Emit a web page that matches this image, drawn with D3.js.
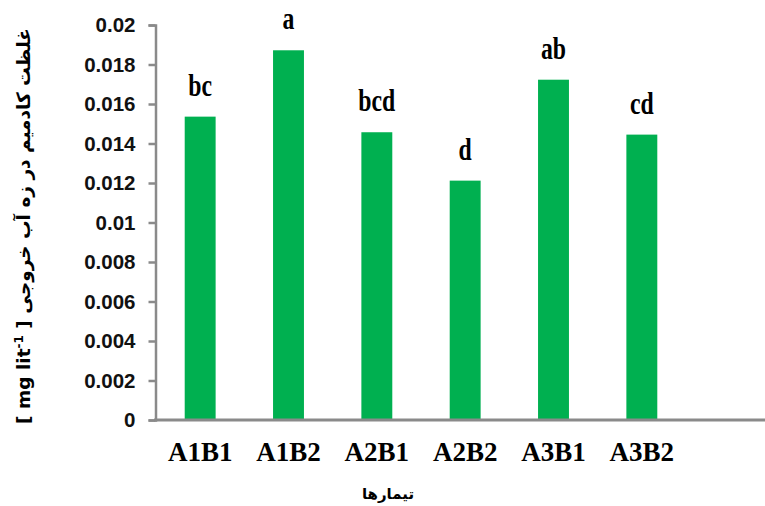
<!DOCTYPE html>
<html>
<head>
<meta charset="utf-8">
<script src="https://cdn.jsdelivr.net/npm/d3@7"></script>
<style>
  html, body { margin: 0; padding: 0; background: #fff; }
  svg { display: block; }
</style>
</head>
<body>
<svg id="chart" width="765" height="506"></svg>
<script>
// Treatments, cadmium concentration in outflow drainage water, and mean-comparison letters
const treatments = ["A1B1", "A1B2", "A2B1", "A2B2", "A3B1", "A3B2"];
const cadmium = [0.01536, 0.01872, 0.01457, 0.01212, 0.01723, 0.01445];
const groupLetters = ["bc", "a", "bcd", "d", "ab", "cd"];
const yTicks = [0, 0.002, 0.004, 0.006, 0.008, 0.01, 0.012, 0.014, 0.016, 0.018, 0.02];

const W = 765, H = 506;
const svg = d3.select("#chart");

const x = d3.scaleBand()
  .domain(treatments)
  .range([156, 686])
  .paddingInner(0.65)
  .paddingOuter(0.325);

const y = d3.scaleLinear()
  .domain([0, 0.02])
  .range([420, 25]);

const axisColor = "#8a8a8a";

// Bars
svg.append("g").selectAll("rect")
  .data(cadmium)
  .join("rect")
  .attr("x", (d, i) => x(treatments[i]))
  .attr("y", d => y(d))
  .attr("width", x.bandwidth())
  .attr("height", d => y(0) - y(d))
  .attr("fill", "#00b050");

// Letters above bars
svg.append("g").selectAll("text")
  .data(cadmium)
  .join("text")
  .attr("transform", (d, i) =>
    `translate(${x(treatments[i]) + x.bandwidth() / 2},${y(d) - 21}) scale(0.95,1.25)`)
  .attr("text-anchor", "middle")
  .attr("font-family", "'Liberation Serif', 'Times New Roman', serif")
  .attr("font-weight", "bold")
  .attr("font-size", 25)
  .attr("fill", "#000")
  .text((d, i) => groupLetters[i]);

// Y axis
const yAxis = svg.append("g")
  .attr("transform", `translate(${x.range()[0] - 0.5},0)`)
  .call(d3.axisLeft(y)
    .tickValues(yTicks)
    .tickFormat(d => d3.format("~g")(d))
    .tickSizeInner(7)
    .tickSizeOuter(7)
    .tickPadding(13));
yAxis.select(".domain").attr("stroke", axisColor).attr("stroke-width", 2.5);
yAxis.selectAll(".tick line").attr("stroke", axisColor).attr("stroke-width", 2.5);
yAxis.selectAll(".tick text")
  .attr("font-family", "'Liberation Sans', Arial, sans-serif")
  .attr("font-weight", "bold")
  .attr("font-size", 20.5)
  .attr("fill", "#111");

// X axis: baseline runs to the right edge
const xAxis = svg.append("g")
  .attr("transform", `translate(0,${y(0)})`)
  .call(d3.axisBottom(x).tickSize(0).tickPadding(22));
xAxis.select(".domain").remove();
xAxis.append("line")
  .attr("x1", x.range()[0] - 2)
  .attr("x2", W)
  .attr("stroke", axisColor)
  .attr("stroke-width", 3);
xAxis.selectAll(".tick text")
  .attr("font-family", "'Liberation Serif', 'Times New Roman', serif")
  .attr("font-weight", "bold")
  .attr("font-size", 27)
  .attr("fill", "#000");

// Axis titles
svg.append("text")
  .attr("x", 388)
  .attr("y", 499)
  .attr("text-anchor", "middle")
  .attr("font-family", "'DejaVu Sans', sans-serif")
  .attr("font-weight", "bold")
  .attr("font-size", 15)
  .attr("fill", "#000")
  .text("تیمارها");

const yTitle = svg.append("text")
  .attr("transform", "translate(30,226) rotate(-90)")
  .attr("text-anchor", "middle")
  .attr("direction", "ltr")
  .attr("font-family", "'DejaVu Sans', sans-serif")
  .attr("font-weight", "bold")
  .attr("font-size", 18.5)
  .attr("fill", "#000");
yTitle.append("tspan").text("[ mg lit");
yTitle.append("tspan").attr("font-size", 12).attr("baseline-shift", "super").text("-1");
yTitle.append("tspan").text(" ]  غلظت کادمیم در زه آب خروجی");
</script>
</body>
</html>
